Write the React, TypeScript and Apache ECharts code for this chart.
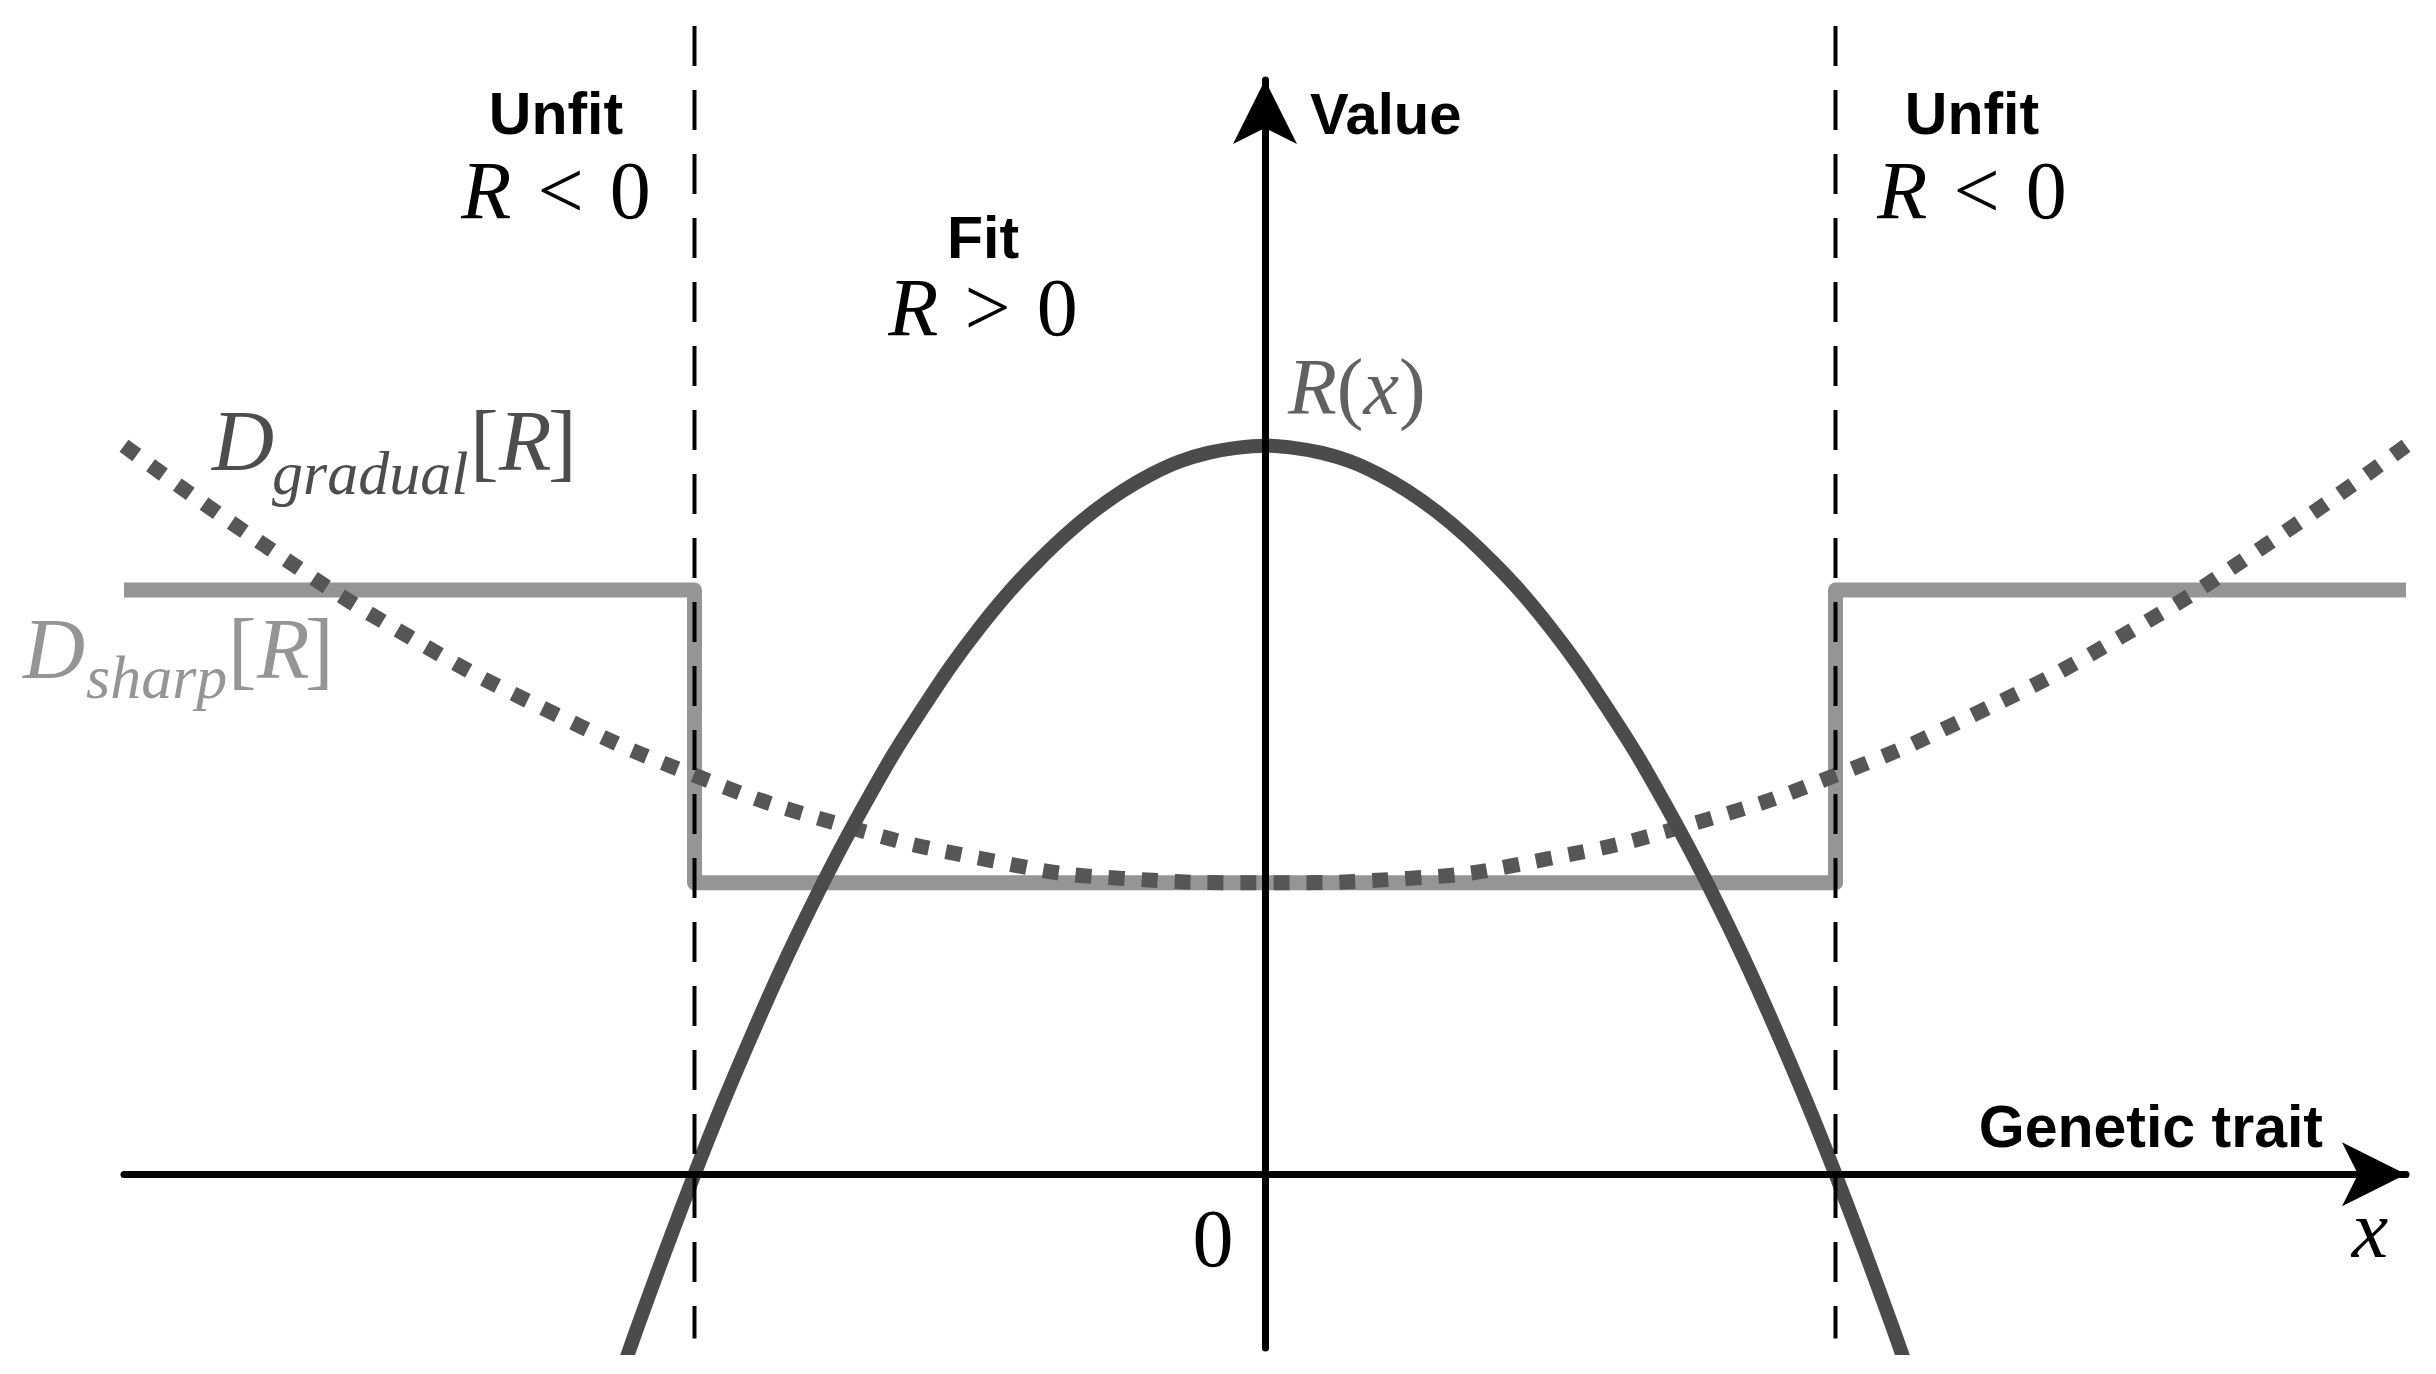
import React, { useEffect, useRef } from "react";
import * as echarts from "echarts";

// ---- data (x: genetic trait, y: value) ----
const rX = [-1.12, -1.1, -1.05, -1.0, -0.95, -0.9, -0.85, -0.8, -0.75, -0.7, -0.65, -0.6, -0.55, -0.5, -0.45, -0.4, -0.35, -0.3, -0.25, -0.2, -0.15, -0.1, -0.05, 0,
  0.05, 0.1, 0.15, 0.2, 0.25, 0.3, 0.35, 0.4, 0.45, 0.5, 0.55, 0.6, 0.65, 0.7, 0.75, 0.8, 0.85, 0.9, 0.95, 1.0, 1.05, 1.1, 1.12];
const rY = [-0.257, -0.212, -0.104, 0, 0.099, 0.192, 0.281, 0.364, 0.442, 0.515, 0.584, 0.646, 0.705, 0.758, 0.806, 0.848, 0.886, 0.919, 0.947, 0.97, 0.988, 1.0, 1.007, 1.01,
  1.007, 1.0, 0.988, 0.97, 0.947, 0.919, 0.886, 0.848, 0.806, 0.758, 0.705, 0.646, 0.584, 0.515, 0.442, 0.364, 0.281, 0.192, 0.099, 0, -0.104, -0.212, -0.257];

const gradualX = [-2, -1.75, -1.5, -1.25, -1, -0.75, -0.5, -0.25, 0, 0.25, 0.5, 0.75, 1, 1.25, 1.5, 1.75, 2];
const gradualY = [1.01, 0.87, 0.745, 0.64, 0.553, 0.486, 0.438, 0.41, 0.404, 0.41, 0.438, 0.486, 0.553, 0.64, 0.745, 0.87, 1.01];

const sharpX = [-2, -1, -1, 1, 1, 2];
const sharpY = [0.81, 0.81, 0.404, 0.404, 0.81, 0.81];

const boundaryX = [-1, 1];
const boundaryTop = 1.592;
const boundaryBottom = -0.228;

const xRange = [-2, 2];
const yRange = [-0.241, 1.517];

const SERIF = "'Liberation Serif', 'Times New Roman', serif";
const SANS = "'Liberation Sans', Arial, sans-serif";

const zip = (xs: number[], ys: number[]) => xs.map((x, i) => [x, ys[i]]);

function txt(text: string, x: number, y: number, o: any = {}) {
  const align = o.align || "center";
  return {
    type: "text",
    x,
    y,
    z: 20,
    silent: true,
    style: {
      text,
      fill: o.fill || "#000",
      fontSize: o.fontSize || 82,
      fontFamily: o.fontFamily || SERIF,
      fontWeight: o.fontWeight || "normal",
      fontStyle: o.fontStyle || "normal",
      align,
      textAlign: align,
      verticalAlign: "middle",
      textVerticalAlign: "middle",
      rich: o.rich,
    },
  };
}

const ineqRich = {
  i: { fontStyle: "italic", fontFamily: SERIF, fontSize: 82, padding: [0, 26, 0, 0] },
  o: { fontFamily: SERIF, fontSize: 82, padding: [0, 26, 0, 0] },
  n: { fontFamily: SERIF, fontSize: 82 },
};

const rxRich = {
  i: { fontStyle: "italic", fontFamily: SERIF, fontSize: 80, fill: "#616161" },
  n: { fontFamily: SERIF, fontSize: 80, fill: "#616161" },
};

export default function App() {
  const ref = useRef<HTMLDivElement>(null);
  useEffect(() => {
    if (!ref.current) return;
    const chart = echarts.init(ref.current, undefined, { renderer: "svg" });
    const boundarySeries = boundaryX.map((bx, i) => ({
      type: "line",
      name: "boundary" + i,
      data: [[bx, boundaryTop], [bx, boundaryBottom]],
      showSymbol: false,
      symbol: "none",
      clip: false,
      z: 5,
      lineStyle: { color: "#000", width: 4, type: [40, 24], cap: "butt" },
      silent: true,
    }));
    chart.setOption({
      animation: false,
      backgroundColor: "#fff",
      grid: { left: 124, right: 30, top: 80, bottom: 26, containLabel: false, outerBoundsMode: "none" },
      xAxis: {
        type: "value",
        min: xRange[0],
        max: xRange[1],
        z: 10,
        axisLine: {
          onZero: true,
          symbol: ["none", "arrow"],
          symbolSize: [48, 64],
          lineStyle: { color: "#000", width: 7 },
        },
        axisTick: { show: false },
        axisLabel: { show: false },
        splitLine: { show: false },
      },
      yAxis: {
        type: "value",
        min: yRange[0],
        max: yRange[1],
        z: 10,
        axisLine: {
          onZero: true,
          symbol: ["none", "arrow"],
          symbolSize: [48, 64],
          lineStyle: { color: "#000", width: 7 },
        },
        axisTick: { show: false },
        axisLabel: { show: false },
        splitLine: { show: false },
      },
      series: [
        {
          type: "line",
          name: "D_sharp",
          data: zip(sharpX, sharpY),
          showSymbol: false,
          symbol: "none",
          z: 2,
          lineStyle: { color: "#959595", width: 15, join: "round", cap: "butt" },
        },
        {
          type: "line",
          name: "D_gradual",
          data: zip(gradualX, gradualY),
          smooth: true,
          showSymbol: false,
          symbol: "none",
          z: 3,
          lineStyle: { color: "#565656", width: 15, type: [16, 17], cap: "butt" },
        },
        {
          type: "line",
          name: "R(x)",
          data: zip(rX, rY),
          smooth: 0.3,
          showSymbol: false,
          symbol: "none",
          z: 4,
          lineStyle: { color: "#4b4b4b", width: 14 },
        },
        ...boundarySeries,
      ],
      graphic: [
        txt("Unfit", 556, 114, { fontFamily: SANS, fontWeight: "bold", fontSize: 59 }),
        txt("{i|R}{o|<}{n|0}", 556, 190, { rich: ineqRich }),
        txt("Fit", 983, 238, { fontFamily: SANS, fontWeight: "bold", fontSize: 59 }),
        txt("{i|R}{o|>}{n|0}", 983, 307, { rich: ineqRich }),
        txt("Unfit", 1972, 114, { fontFamily: SANS, fontWeight: "bold", fontSize: 59 }),
        txt("{i|R}{o|<}{n|0}", 1972, 190, { rich: ineqRich }),
        txt("Value", 1310, 113, { fontFamily: SANS, fontWeight: "bold", fontSize: 58, align: "left" }),
        txt("Genetic trait", 2323, 1127, { fontFamily: SANS, fontWeight: "bold", fontSize: 59, align: "right" }),
        txt("{i|R}{n|(}{i|x}{n|)}", 1288, 387, { rich: rxRich, align: "left", fill: "#616161" }),
        txt("0", 1213, 1238, { fontSize: 82 }),
        txt("x", 2370, 1229, { fontSize: 82, fontStyle: "italic" }),
        // D_gradual[R]
        txt("D", 212, 441, { fontSize: 86, fontStyle: "italic", align: "left", fill: "#4d4d4d" }),
        txt("gradual", 272, 473, { fontSize: 62, fontStyle: "italic", align: "left", fill: "#4d4d4d" }),
        txt("[", 470, 441, { fontSize: 86, align: "left", fill: "#4d4d4d" }),
        txt("R", 499, 441, { fontSize: 86, fontStyle: "italic", align: "left", fill: "#4d4d4d" }),
        txt("]", 548, 441, { fontSize: 86, align: "left", fill: "#4d4d4d" }),
        // D_sharp[R]
        txt("D", 23, 649, { fontSize: 86, fontStyle: "italic", align: "left", fill: "#959595" }),
        txt("sharp", 86, 677, { fontSize: 62, fontStyle: "italic", align: "left", fill: "#959595" }),
        txt("[", 228, 649, { fontSize: 86, align: "left", fill: "#959595" }),
        txt("R", 257, 649, { fontSize: 86, fontStyle: "italic", align: "left", fill: "#959595" }),
        txt("]", 305, 649, { fontSize: 86, align: "left", fill: "#959595" }),
      ],
    });
    return () => chart.dispose();
  }, []);
  return (
    <div
      ref={ref}
      style={{ position: "absolute", left: 0, top: 0, width: 2436, height: 1374, background: "#fff" }}
    />
  );
}
